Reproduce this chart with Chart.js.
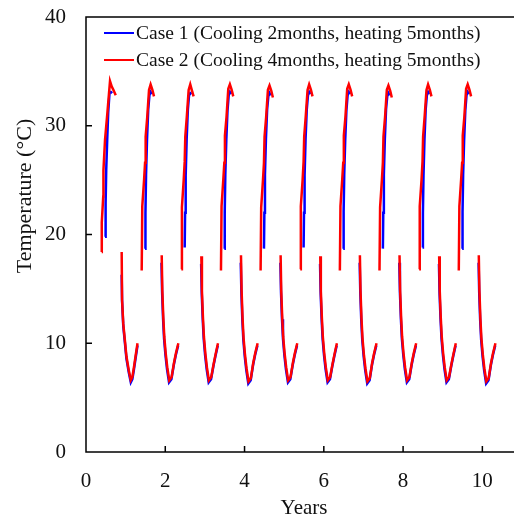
<!DOCTYPE html>
<html>
<head>
<meta charset="utf-8">
<script src="https://cdn.jsdelivr.net/npm/chart.js@4.4.1/dist/chart.umd.min.js"></script>
<style>
html,body{margin:0;padding:0;background:#fff;overflow:hidden;}
#wrap{width:530px;height:521px;}
</style>
</head>
<body>
<div id="wrap"><canvas id="c" width="530" height="521"></canvas></div>
<script>
// ---- Data (x in years, temperature in °C) ----
const seriesNames = ["Case 1 (Cooling 2months, heating 5months)", "Case 2 (Cooling 4months, heating 5months)"];
const xTicks = [0, 2, 4, 6, 8, 10];
const yTicks = [0, 10, 20, 30, 40];

// Case 2 (red) cooling periods, one row per year
const case2CoolX = [
  [0.396,0.398,0.435,0.44,0.48,0.54,0.606,0.65,0.69,0.75],
  [1.405,1.42,1.465,1.49,1.505,1.545,1.59,1.63,1.675,1.715],
  [2.405,2.42,2.465,2.49,2.505,2.545,2.59,2.63,2.675,2.715],
  [3.405,3.42,3.465,3.49,3.505,3.545,3.59,3.63,3.675,3.715],
  [4.405,4.42,4.465,4.49,4.505,4.545,4.59,4.63,4.675,4.715],
  [5.405,5.42,5.465,5.49,5.505,5.545,5.59,5.63,5.675,5.715],
  [6.405,6.42,6.465,6.49,6.505,6.545,6.59,6.63,6.675,6.715],
  [7.405,7.42,7.465,7.49,7.505,7.545,7.59,7.63,7.675,7.715],
  [8.405,8.42,8.465,8.49,8.505,8.545,8.59,8.63,8.675,8.715],
  [9.405,9.42,9.465,9.49,9.505,9.545,9.59,9.63,9.675,9.715]
];
const case2CoolT = [
  [18.4,21.1,23.5,25.9,28.7,31.2,34.1,33.6,33.3,32.8],
  [16.7,22.6,25.0,26.6,29.0,30.8,33.3,33.8,33.3,32.7],
  [16.8,22.5,25.0,26.7,29.0,30.9,33.3,33.8,33.2,32.7],
  [16.7,22.6,25.1,26.6,29.1,30.8,33.4,33.8,33.3,32.7],
  [16.7,22.5,25.0,26.6,29.0,30.8,33.3,33.7,33.2,32.6],
  [16.8,22.6,25.0,26.7,29.0,30.9,33.3,33.8,33.3,32.7],
  [16.7,22.6,25.1,26.6,29.1,30.8,33.4,33.8,33.3,32.7],
  [16.7,22.5,25.0,26.6,29.0,30.8,33.3,33.7,33.2,32.6],
  [16.8,22.6,25.0,26.7,29.0,30.9,33.3,33.8,33.3,32.7],
  [16.7,22.6,25.1,26.6,29.1,30.8,33.4,33.8,33.3,32.7]
];
// Case 2 (red) heating periods
const case2HeatX = [
  [0.90,0.91,0.94,0.98,1.02,1.08,1.13,1.17,1.21,1.25,1.30],
  [1.91,1.925,1.95,1.975,2.01,2.05,2.10,2.16,2.22,2.27,2.33],
  [2.91,2.925,2.95,2.975,3.01,3.05,3.10,3.16,3.22,3.27,3.33],
  [3.91,3.925,3.95,3.975,4.01,4.05,4.10,4.16,4.22,4.27,4.33],
  [4.91,4.925,4.95,4.975,5.01,5.05,5.10,5.16,5.22,5.27,5.33],
  [5.91,5.925,5.95,5.975,6.01,6.05,6.10,6.16,6.22,6.27,6.33],
  [6.91,6.925,6.95,6.975,7.01,7.05,7.10,7.16,7.22,7.27,7.33],
  [7.91,7.925,7.95,7.975,8.01,8.05,8.10,8.16,8.22,8.27,8.33],
  [8.91,8.925,8.95,8.975,9.01,9.05,9.10,9.16,9.22,9.27,9.33],
  [9.91,9.925,9.95,9.975,10.01,10.05,10.10,10.16,10.22,10.27,10.33]
];
const case2HeatT = [
  [18.4,14.0,11.8,10.3,8.8,7.5,6.6,6.9,7.8,8.8,10.0],
  [18.1,14.9,12.4,10.6,9.1,7.8,6.6,6.9,8.2,9.1,10.0],
  [18.0,14.8,12.4,10.6,9.1,7.8,6.6,6.9,8.1,9.0,10.0],
  [18.1,14.9,12.3,10.5,9.0,7.7,6.5,6.8,8.2,9.1,10.0],
  [18.1,14.9,12.4,10.6,9.1,7.8,6.6,6.9,8.2,9.1,10.0],
  [18.0,14.8,12.4,10.6,9.1,7.8,6.6,6.9,8.1,9.0,10.0],
  [18.1,14.9,12.3,10.5,9.0,7.7,6.5,6.8,8.2,9.1,10.0],
  [18.1,14.9,12.4,10.6,9.1,7.8,6.6,6.9,8.2,9.1,10.0],
  [18.0,14.8,12.4,10.6,9.1,7.8,6.6,6.9,8.1,9.0,10.0],
  [18.1,14.9,12.3,10.5,9.0,7.7,6.5,6.8,8.2,9.1,10.0]
];
// Case 1 (blue) cooling periods
const case1CoolX = [
  [0.48,0.495,0.51,0.535,0.56,0.595,0.63,0.66],
  [1.49,1.50,1.515,1.54,1.57,1.60,1.63,1.66],
  [2.49,2.50,2.515,2.54,2.57,2.60,2.63,2.66],
  [3.49,3.50,3.515,3.54,3.57,3.60,3.63,3.66],
  [4.49,4.50,4.515,4.54,4.57,4.60,4.63,4.66],
  [5.49,5.50,5.515,5.54,5.57,5.60,5.63,5.66],
  [6.49,6.50,6.515,6.54,6.57,6.60,6.63,6.66],
  [7.49,7.50,7.515,7.54,7.57,7.60,7.63,7.66],
  [8.49,8.50,8.515,8.54,8.57,8.60,8.63,8.66],
  [9.49,9.50,9.515,9.54,9.57,9.60,9.63,9.66]
];
const case1CoolT = [
  [19.8,22.9,25.9,28.7,31.2,33.1,33.1,33.0],
  [18.7,22.0,25.5,28.8,31.5,32.8,33.1,32.9],
  [18.8,22.0,25.4,28.8,31.5,32.8,33.0,32.9],
  [18.7,22.1,25.5,28.7,31.4,32.8,33.1,32.9],
  [18.7,22.0,25.5,28.8,31.5,32.7,33.0,32.8],
  [18.8,22.0,25.4,28.8,31.5,32.8,33.1,32.9],
  [18.7,22.1,25.5,28.7,31.4,32.8,33.1,32.9],
  [18.7,22.0,25.5,28.8,31.5,32.7,33.0,32.8],
  [18.8,22.0,25.4,28.8,31.5,32.8,33.1,32.9],
  [18.7,22.1,25.5,28.7,31.4,32.8,33.1,32.9]
];
// Case 1 (blue) heating periods
const case1HeatX = [
  [0.90,0.91,0.94,0.98,1.02,1.08,1.13,1.17,1.21,1.25,1.30],
  [1.905,1.92,1.945,1.97,2.005,2.045,2.095,2.155,2.215,2.265,2.325],
  [2.905,2.92,2.945,2.97,3.005,3.045,3.095,3.155,3.215,3.265,3.325],
  [3.905,3.92,3.945,3.97,4.005,4.045,4.095,4.155,4.215,4.265,4.325],
  [4.905,4.92,4.945,4.97,5.005,5.045,5.095,5.155,5.215,5.265,5.325],
  [5.905,5.92,5.945,5.97,6.005,6.045,6.095,6.155,6.215,6.265,6.325],
  [6.905,6.92,6.945,6.97,7.005,7.045,7.095,7.155,7.215,7.265,7.325],
  [7.905,7.92,7.945,7.97,8.005,8.045,8.095,8.155,8.215,8.265,8.325],
  [8.905,8.92,8.945,8.97,9.005,9.045,9.095,9.155,9.215,9.265,9.325],
  [9.905,9.92,9.945,9.97,10.005,10.045,10.095,10.155,10.215,10.265,10.325]
];
const case1HeatT = [
  [16.3,13.9,11.6,10.1,8.6,7.3,6.4,6.7,7.6,8.6,9.8],
  [17.4,14.7,12.2,10.4,8.9,7.6,6.4,6.7,8.0,8.9,9.8],
  [17.3,14.6,12.2,10.4,8.9,7.6,6.4,6.7,7.9,8.8,9.8],
  [17.4,14.7,12.1,10.3,8.8,7.5,6.3,6.6,8.0,8.9,9.8],
  [17.4,14.7,12.2,10.4,8.9,7.6,6.4,6.7,8.0,8.9,9.8],
  [17.3,14.6,12.2,10.4,8.9,7.6,6.4,6.7,7.9,8.8,9.8],
  [17.4,14.7,12.1,10.3,8.8,7.5,6.3,6.6,8.0,8.9,9.8],
  [17.4,14.7,12.2,10.4,8.9,7.6,6.4,6.7,8.0,8.9,9.8],
  [17.3,14.6,12.2,10.4,8.9,7.6,6.4,6.7,7.9,8.8,9.8],
  [17.4,14.7,12.1,10.3,8.8,7.5,6.3,6.6,8.0,8.9,9.8]
];

function buildSeries(coolX, coolT, heatX, heatT) {
  const pts = [];
  for (let i = 0; i < coolX.length; i++) {
    coolX[i].forEach((x, j) => pts.push({x: x, y: coolT[i][j]}));
    pts.push({x: coolX[i][coolX[i].length - 1], y: null});
    heatX[i].forEach((x, j) => pts.push({x: x, y: heatT[i][j]}));
    pts.push({x: heatX[i][heatX[i].length - 1], y: null});
  }
  return pts;
}

const FONT = "'Liberation Serif', 'Times New Roman', serif";
const COLORS = ['#0000ff', '#ff0000'];

const decorPlugin = {
  id: 'decor',
  afterDatasetsDraw(chart) {
    const ctx = chart.ctx, a = chart.chartArea;
    const xs = chart.scales.x, ys = chart.scales.y;
    ctx.save();
    ctx.strokeStyle = '#000';
    ctx.lineWidth = 1.5;
    ctx.strokeRect(a.left, a.top, a.right - a.left, a.bottom - a.top);
    ctx.beginPath();
    xs.ticks.forEach(t => {
      const px = xs.getPixelForValue(t.value);
      if (px > a.left + 1 && px < a.right - 1) { ctx.moveTo(px, a.bottom); ctx.lineTo(px, a.bottom - 6); }
    });
    ys.ticks.forEach(t => {
      const py = ys.getPixelForValue(t.value);
      if (py > a.top + 1 && py < a.bottom - 1) { ctx.moveTo(a.left, py); ctx.lineTo(a.left + 6, py); }
    });
    ctx.stroke();
    // legend (inside the plot, top-left)
    ctx.font = '19.5px ' + FONT;
    ctx.textBaseline = 'middle';
    ctx.textAlign = 'left';
    seriesNames.forEach((name, i) => {
      const yy = a.top + 16 + i * 27;
      ctx.strokeStyle = COLORS[i];
      ctx.lineWidth = 2;
      ctx.beginPath(); ctx.moveTo(104, yy); ctx.lineTo(134, yy); ctx.stroke();
      ctx.fillStyle = '#111';
      ctx.fillText(name, 136, yy + 1);
    });
    // y axis title
    ctx.translate(25, 196);
    ctx.rotate(-Math.PI / 2);
    ctx.textAlign = 'center';
    ctx.font = '22px ' + FONT;
    ctx.fillText('Temperature (\u00B0C)', 0, 0);
    ctx.restore();
  }
};

new Chart(document.getElementById('c'), {
  type: 'line',
  data: {
    datasets: [
      {label: seriesNames[0], data: buildSeries(case1CoolX, case1CoolT, case1HeatX, case1HeatT),
       borderColor: COLORS[0], backgroundColor: COLORS[0], borderWidth: 2.5, pointRadius: 0, tension: 0, spanGaps: false, order: 1},
      {label: seriesNames[1], data: buildSeries(case2CoolX, case2CoolT, case2HeatX, case2HeatT),
       borderColor: COLORS[1], backgroundColor: COLORS[1], borderWidth: 2.5, pointRadius: 0, tension: 0, spanGaps: false, order: 0}
    ]
  },
  options: {
    responsive: false,
    animation: false,
    layout: {padding: {top: 17, right: 8, left: 0, bottom: 0}},
    plugins: {legend: {display: false}, tooltip: {enabled: false}},
    scales: {
      x: {
        type: 'linear', min: 0, max: 11,
        afterBuildTicks(s) { s.ticks = xTicks.map(v => ({value: v})); },
        afterFit(s) { s.height = 69; s.paddingLeft = 0; s.paddingRight = 0; },
        grid: {display: false, drawTicks: false},
        border: {display: false},
        ticks: {color: '#111', font: {family: FONT, size: 21}, padding: 17, maxRotation: 0},
        title: {display: true, text: 'Years', color: '#111', font: {family: FONT, size: 21}, padding: {top: 0, bottom: 0}}
      },
      y: {
        type: 'linear', min: 0, max: 40,
        afterBuildTicks(s) { s.ticks = yTicks.map(v => ({value: v})); },
        afterFit(s) { s.width = 86; s.paddingTop = 0; s.paddingBottom = 0; },
        grid: {display: false, drawTicks: false},
        border: {display: false},
        ticks: {color: '#111', font: {family: FONT, size: 21}, padding: 20}
      }
    }
  },
  plugins: [decorPlugin]
});
</script>
</body>
</html>
